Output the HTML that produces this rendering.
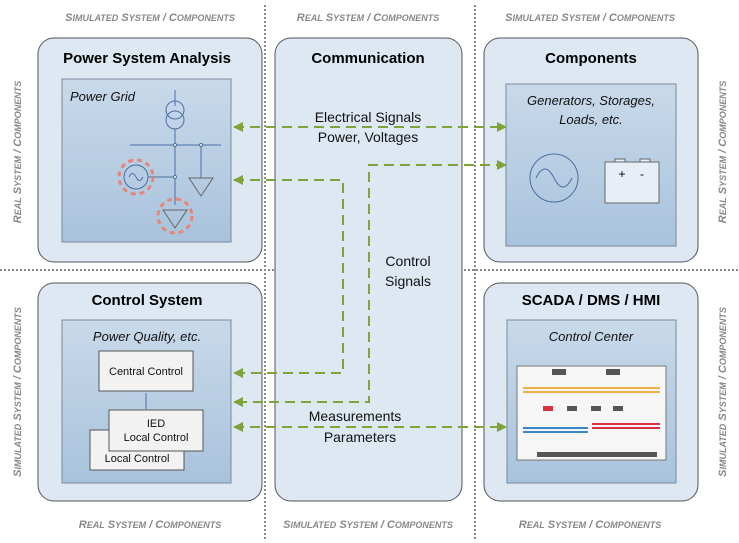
<!DOCTYPE html>
<html><head><style>body{margin:0;background:#fff}svg{display:block}</style></head><body>
<svg width="739" height="543" viewBox="0 0 739 543" xmlns="http://www.w3.org/2000/svg" font-family="'Liberation Sans', sans-serif">
<defs>
<linearGradient id="g" x1="0" y1="0" x2="0" y2="1"><stop offset="0" stop-color="#c9d9ea"/><stop offset="1" stop-color="#a8c3dc"/></linearGradient>
<marker id="a" viewBox="0 0 10 10" refX="9" refY="5" markerWidth="5" markerHeight="5" orient="auto-start-reverse"><path d="M0,0 L10,5 L0,10z" fill="#7ea33a"/></marker>
</defs>
<g stroke="#fff" stroke-width="4"><line x1="265" y1="0" x2="265" y2="543"/><line x1="475" y1="0" x2="475" y2="543"/><line x1="0" y1="270" x2="739" y2="270"/></g>
<g stroke="#888" stroke-width="2" stroke-dasharray="2,2"><line x1="265" y1="5" x2="265" y2="540"/><line x1="475" y1="5" x2="475" y2="540"/><line x1="0" y1="270" x2="739" y2="270"/></g>
<g fill="#dee8f2" stroke="#555" stroke-width="1">
<rect x="38" y="38" width="224" height="224" rx="16"/>
<rect x="275" y="38" width="187" height="463" rx="16"/>
<rect x="484" y="38" width="214" height="224" rx="16"/>
<rect x="38" y="283" width="224" height="218" rx="16"/>
<rect x="484" y="283" width="214" height="218" rx="16"/>
</g>
<g fill="url(#g)" stroke="#7a8899">
<rect x="62" y="79" width="169" height="163"/>
<rect x="506" y="84" width="170" height="162"/>
<rect x="62" y="320" width="169" height="163"/>
<rect x="507" y="320" width="169" height="163"/>
</g>
<g font-weight="bold" font-size="15" text-anchor="middle" fill="#000">
<text x="147" y="63">Power System Analysis</text>
<text x="368" y="63">Communication</text>
<text x="591" y="63">Components</text>
<text x="147" y="305">Control System</text>
<text x="591" y="305">SCADA / DMS / HMI</text>
</g>
<g font-style="italic" font-size="13" fill="#111">
<text x="70" y="101">Power Grid</text>
<text x="591" y="105" text-anchor="middle">Generators, Storages,</text>
<text x="591" y="124" text-anchor="middle">Loads, etc.</text>
<text x="147" y="341" text-anchor="middle">Power Quality, etc.</text>
<text x="591" y="341" text-anchor="middle">Control Center</text>
</g>
<g stroke="#4a6fa5" fill="none" stroke-width="1">
<line x1="175" y1="90" x2="175" y2="106"/>
<circle cx="175" cy="110" r="9"/><circle cx="175" cy="120" r="9"/>
<line x1="175" y1="129" x2="175" y2="205"/>
<line x1="130" y1="145" x2="221" y2="145"/>
<line x1="201" y1="145" x2="201" y2="178"/>
<circle cx="136" cy="177" r="12"/>
<path d="M129,177 q3.5,-7 7,0 t7,0"/>
<line x1="148" y1="177" x2="175" y2="177"/>
</g>
<g stroke="#666" fill="none"><path d="M189,178 L213,178 L201,196z"/><path d="M163,210 L187,210 L175,228z"/></g>
<g fill="#fff" stroke="#4a6fa5"><circle cx="175" cy="145" r="1.5"/><circle cx="201" cy="145" r="1.5"/><circle cx="175" cy="177" r="1.5"/></g>
<g fill="none" stroke="#e8857a" stroke-width="3" stroke-dasharray="5,4"><circle cx="136" cy="177" r="17"/><circle cx="175" cy="216" r="17"/></g>
<circle cx="554" cy="178" r="24" fill="none" stroke="#4a6fa5"/>
<path d="M536,178 q9,-18 18,0 t18,0" fill="none" stroke="#4a6fa5"/>
<rect x="605" y="162" width="54" height="41" fill="#e8eef6" stroke="#666"/>
<rect x="615" y="159" width="10" height="3" fill="#e8eef6" stroke="#666"/>
<rect x="640" y="159" width="10" height="3" fill="#e8eef6" stroke="#666"/>
<text x="622" y="178" font-size="12" text-anchor="middle">+</text>
<text x="642" y="178" font-size="12" text-anchor="middle">-</text>
<g fill="#f2f2f2" stroke="#555">
<rect x="99" y="351" width="94" height="40"/>
<rect x="90" y="430" width="94" height="40"/>
<rect x="109" y="410" width="94" height="41"/>
</g>
<line x1="146" y1="393" x2="146" y2="409" stroke="#4a6fa5"/>
<g font-size="11" text-anchor="middle" fill="#111">
<text x="146" y="375">Central Control</text>
<text x="156" y="427">IED</text>
<text x="156" y="441">Local Control</text>
<text x="137" y="462">Local Control</text>
</g>
<rect x="517" y="366" width="149" height="94" fill="#f6f6f6" stroke="#777"/>
<g stroke-width="2">
<line x1="523" y1="388" x2="660" y2="388" stroke="#f0b040"/><line x1="523" y1="392" x2="660" y2="392" stroke="#f0b040"/>
<line x1="523" y1="428" x2="588" y2="428" stroke="#3a87c8"/><line x1="523" y1="432" x2="588" y2="432" stroke="#3a87c8"/>
<line x1="592" y1="424" x2="660" y2="424" stroke="#d83040"/><line x1="592" y1="428" x2="660" y2="428" stroke="#d83040"/>
</g>
<g fill="#555"><rect x="552" y="369" width="14" height="6"/><rect x="606" y="369" width="14" height="6"/><rect x="537" y="452" width="120" height="5"/><rect x="567" y="406" width="10" height="5"/><rect x="591" y="406" width="10" height="5"/><rect x="613" y="406" width="10" height="5"/></g>
<rect x="543" y="406" width="10" height="5" fill="#d83040"/>
<g stroke="#7ea33a" stroke-width="2" fill="none" stroke-dasharray="10,6">
<line x1="234" y1="127" x2="506" y2="127" marker-start="url(#a)" marker-end="url(#a)"/>
<polyline points="234,180 343,180 343,373 234,373" marker-start="url(#a)" marker-end="url(#a)"/>
<polyline points="506,165 369,165 369,402 234,402" marker-start="url(#a)" marker-end="url(#a)"/>
<line x1="234" y1="427" x2="506" y2="427" marker-start="url(#a)" marker-end="url(#a)"/>
</g>
<g font-size="14" text-anchor="middle" fill="#111">
<text x="368" y="122">Electrical Signals</text>
<text x="368" y="142">Power, Voltages</text>
<text x="408" y="266">Control</text>
<text x="408" y="286">Signals</text>
<text x="355" y="421">Measurements</text>
<text x="360" y="442">Parameters</text>
</g>
<g font-size="11" font-style="italic" font-weight="bold" fill="#888" text-anchor="middle">
<text x="150" y="21">S<tspan font-size="9">IMULATED</tspan> S<tspan font-size="9">YSTEM</tspan> / C<tspan font-size="9">OMPONENTS</tspan></text>
<text x="368" y="21">R<tspan font-size="9">EAL</tspan> S<tspan font-size="9">YSTEM</tspan> / C<tspan font-size="9">OMPONENTS</tspan></text>
<text x="590" y="21">S<tspan font-size="9">IMULATED</tspan> S<tspan font-size="9">YSTEM</tspan> / C<tspan font-size="9">OMPONENTS</tspan></text>
<text x="150" y="528">R<tspan font-size="9">EAL</tspan> S<tspan font-size="9">YSTEM</tspan> / C<tspan font-size="9">OMPONENTS</tspan></text>
<text x="368" y="528">S<tspan font-size="9">IMULATED</tspan> S<tspan font-size="9">YSTEM</tspan> / C<tspan font-size="9">OMPONENTS</tspan></text>
<text x="590" y="528">R<tspan font-size="9">EAL</tspan> S<tspan font-size="9">YSTEM</tspan> / C<tspan font-size="9">OMPONENTS</tspan></text>
<text transform="translate(21,152) rotate(-90)">R<tspan font-size="9">EAL</tspan> S<tspan font-size="9">YSTEM</tspan> / C<tspan font-size="9">OMPONENTS</tspan></text>
<text transform="translate(21,392) rotate(-90)">S<tspan font-size="9">IMULATED</tspan> S<tspan font-size="9">YSTEM</tspan> / C<tspan font-size="9">OMPONENTS</tspan></text>
<text transform="translate(726,152) rotate(-90)">R<tspan font-size="9">EAL</tspan> S<tspan font-size="9">YSTEM</tspan> / C<tspan font-size="9">OMPONENTS</tspan></text>
<text transform="translate(726,392) rotate(-90)">S<tspan font-size="9">IMULATED</tspan> S<tspan font-size="9">YSTEM</tspan> / C<tspan font-size="9">OMPONENTS</tspan></text>
</g>
</svg>
</body></html>
